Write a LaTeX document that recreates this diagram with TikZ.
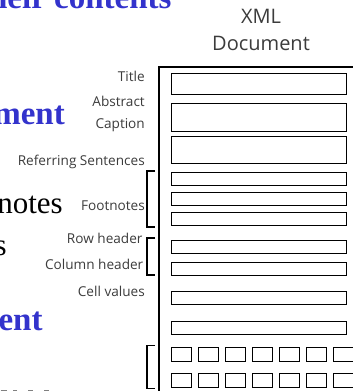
\documentclass[tikz,border=0pt]{standalone}
\usepackage{fontspec}
\newfontfamily\lblfont{Open Sans}
\newfontfamily\bigserif{Liberation Serif}
\definecolor{lblgray}{RGB}{60,60,60}
\definecolor{slideblue}{RGB}{51,51,204}
\begin{document}
\begin{tikzpicture}[x=1pt,y=-1pt,
  lbl/.style={font=\lblfont\fontsize{13.6}{16}\selectfont, text=lblgray, inner sep=0pt, anchor=base east},
  doclbl/.style={font=\lblfont\fontsize{20}{26.7}\selectfont, text=lblgray, inner sep=0pt, align=center},
  bigblue/.style={font=\bigserif\bfseries\fontsize{33}{36}\selectfont, text=slideblue, inner sep=0pt, anchor=base east},
  bigblack/.style={font=\bigserif\fontsize{31}{34}\selectfont, text=black, inner sep=0pt, anchor=base east},
  fbox/.style={draw=black, line width=0.8pt, inner sep=0pt, anchor=north west, minimum width=174.5pt},
  sq/.style={draw=black, line width=0.8pt, inner sep=0pt, anchor=north west, minimum width=19.5pt, minimum height=14pt},
  brk/.style={draw=black, line width=1.8pt},
  frame/.style={draw=black, line width=2pt}]
\useasboundingbox (0,0) rectangle (353,391);
\clip (0,0) rectangle (353,391);
\fill[white] (0,0) rectangle (353,391);

% fragments of neighbouring slide text
\node[bigblue] (t1) at (171.7,8.7) {their contents};
\node[bigblue] (t2) at (65,124) {ment};
\node[bigblack] (t3) at (63,213.3) {notes};
\node[bigblack] (t4) at (7,255) {s};
\node[bigblue] (t5) at (42.7,330) {ent};
\foreach \a/\b in {0.7/6.7,13/17,28/33,44/49}
  \draw[gray, line width=1.3pt] (\a,390.3) -- (\b,390.3);

% document title
\node[doclbl, anchor=north] (doc) at (261,9.2) {XML\\Document};

% document frame
\coordinate (fb) at (158.7,400);
\coordinate (ftl) at (158.7,66.7);
\coordinate (fr) at (360,66.7);
\draw[frame] (fb) -- (ftl) -- (fr);

% field boxes
\node[fbox, minimum height=20.7pt] (b1) at (171,73.3) {};
\node[fbox, minimum height=27.7pt] (b2) at (171,103) {};
\node[fbox, minimum height=27pt] (b3) at (171,136) {};
\node[fbox, minimum height=13pt] (b4) at (171,172.3) {};
\node[fbox, minimum height=13pt] (b5) at (171,192.3) {};
\node[fbox, minimum height=13pt] (b6) at (171,212.3) {};
\node[fbox, minimum height=13pt] (b7) at (171,240.3) {};
\node[fbox, minimum height=13pt] (b8) at (171,261.7) {};
\node[fbox, minimum height=13pt] (b9) at (171,290.7) {};
\node[fbox, minimum height=13pt] (b10) at (171,320.7) {};
\foreach \i in {0,...,6} {
  \node[sq] (sa\i) at (171+27*\i,346.7) {};
  \node[sq] (sb\i) at (171+27*\i,372.7) {};
}

% labels
\node[lbl] (lt) at (145,81.5) {Title};
\node[lbl] (la) at (145,106.5) {Abstract};
\node[lbl] (lc) at (145,128.7) {Caption};
\node[lbl] (lr) at (145,165.3) {Referring Sentences};
\node[lbl] (lf) at (145,210.4) {Footnotes};
\node[lbl] (lrh) at (142.7,243.7) {Row header};
\node[lbl] (lch) at (143.5,269.5) {Column header};
\node[lbl] (lcv) at (145,296.5) {Cell values};

% brackets
\coordinate (k1a) at (155,171);
\coordinate (k1b) at (146.7,171);
\coordinate (k1c) at (146.7,227.3);
\coordinate (k1d) at (155,227.3);
\draw[brk] (k1a) -- (k1b) -- (k1c) -- (k1d);
\coordinate (k2a) at (155,238.3);
\coordinate (k2b) at (146.7,238.3);
\coordinate (k2c) at (146.7,275);
\coordinate (k2d) at (155,275);
\draw[brk] (k2a) -- (k2b) -- (k2c) -- (k2d);
\coordinate (k3a) at (155,345.5);
\coordinate (k3b) at (146.7,345.5);
\coordinate (k3c) at (146.7,388.5);
\coordinate (k3d) at (155,388.5);
\draw[brk] (k3a) -- (k3b) -- (k3c) -- (k3d);
\end{tikzpicture}
\end{document}
